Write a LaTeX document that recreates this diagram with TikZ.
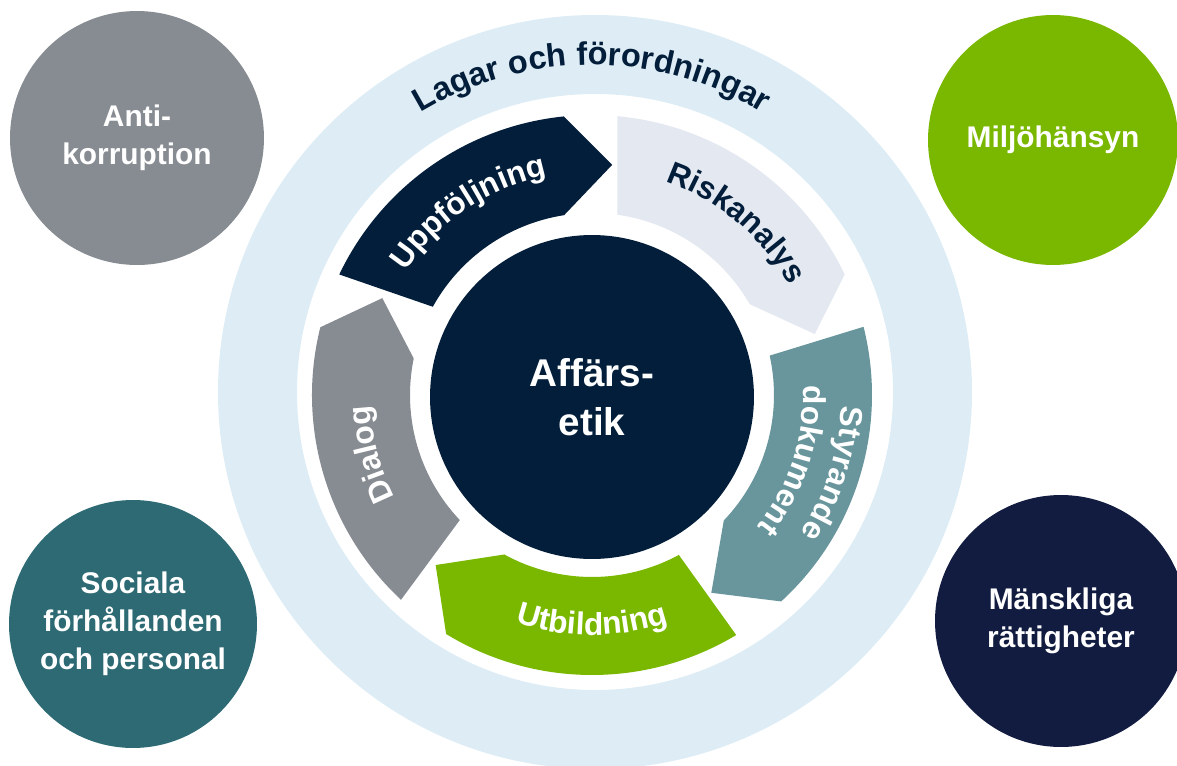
\documentclass[tikz,border=0pt]{standalone}
\usepackage{fontspec}
\setmainfont{Liberation Sans}
\usepackage{tikz}
\usetikzlibrary{decorations.text,positioning}
\definecolor{navy}{RGB}{3,30,58}
\definecolor{nightblue}{RGB}{17,28,64}
\definecolor{stone}{RGB}{135,140,146}
\definecolor{leaf}{RGB}{122,184,0}
\definecolor{petrol}{RGB}{45,106,116}
\definecolor{seagrey}{RGB}{104,150,156}
\definecolor{mist}{RGB}{228,233,241}
\definecolor{ringblue}{RGB}{222,237,245}
\newcommand{\segfont}{\fontsize{18}{22}\selectfont\bfseries}
\newcommand{\ringfont}{\fontsize{18.5}{22}\selectfont\bfseries}
\newcommand{\segarrow}[6]{%
  \fill[#1] (#2:280) arc[start angle=#2, end angle=#4, radius=280] -- (#6:231)
     -- (#5:182) arc[start angle=#5, end angle=#3, radius=182] -- cycle;}
\tikzset{blob/.style={circle, inner sep=0pt, text=white, align=center, font=\fontsize{17}{21.5}\selectfont\bfseries}}
\tikzset{lbl/.style={decorate, decoration={text along path, text align=center, text color=white}}}

\begin{document}
\begin{tikzpicture}[x=0.02cm, y=0.02cm]
        \useasboundingbox (-592,-370) rectangle (585,395);
        %
        \fill[ringblue, even odd rule] (3,3) circle[radius=377] (3,3) circle[radius=298];
        \path[lbl, decoration={text color=navy, text={|\ringfont|Lagar och förordningar}}]
            (150:330) arc[start angle=150, end angle=30, radius=330];
        %
        \node [blob, fill=stone, minimum size=5.08cm]   (anti)  at (-455,257)  {Anti-\\korruption};
        \node [blob, fill=leaf, minimum size=5cm]       (miljo) at (461,255)   {Miljöhänsyn};
        \node [blob, fill=petrol, minimum size=4.96cm]  (soc)   at (-459,-229) {Sociala\\förhållanden\\och personal};
        \node [blob, fill=nightblue, minimum size=5.04cm] (mr)  at (469,-226)  {Mänskliga\\rättigheter};
        \node [blob, fill=navy, minimum size=6.48cm, font=\fontsize{22}{28}\selectfont\bfseries] (etik) at (0,-2) {Affärs-\\etik};
        %
        \segarrow{navy}{154.5}{151}{95.8}{98.8}{85}
        \segarrow{mist}{84.8}{82}{25.5}{29.9}{15.3}
        \segarrow{seagrey}{14.1}{12.5}{-47.5}{-43.6}{-58.9}
        \segarrow{leaf}{-59}{-61.5}{-121.4}{-118.8}{-132.6}
        \segarrow{stone}{227}{223.4}{166}{168.4}{155.2}
        %
        \path[lbl, decoration={text={|\segfont|Uppföljning}}] (174:224) arc[start angle=174, end angle=74, radius=224];
        \path[lbl, decoration={text color=navy, text={|\segfont|Riskanalys}}] (100:226) arc[start angle=100, end angle=0, radius=226];
        \path[lbl, decoration={text={|\segfont|Styrande}}] (32:250) arc[start angle=32, end angle=-68, radius=250];
        \path[lbl, decoration={text={|\segfont|dokument}}] (32:211) arc[start angle=32, end angle=-68, radius=211];
        \path[lbl, decoration={text={|\segfont|Utbildning}}] (-140:240) arc[start angle=-140, end angle=-40, radius=240];
        \path[lbl, decoration={text={|\segfont|Dialog}}] (245:222) arc[start angle=245, end angle=145, radius=222];
\end{tikzpicture}
\end{document}
